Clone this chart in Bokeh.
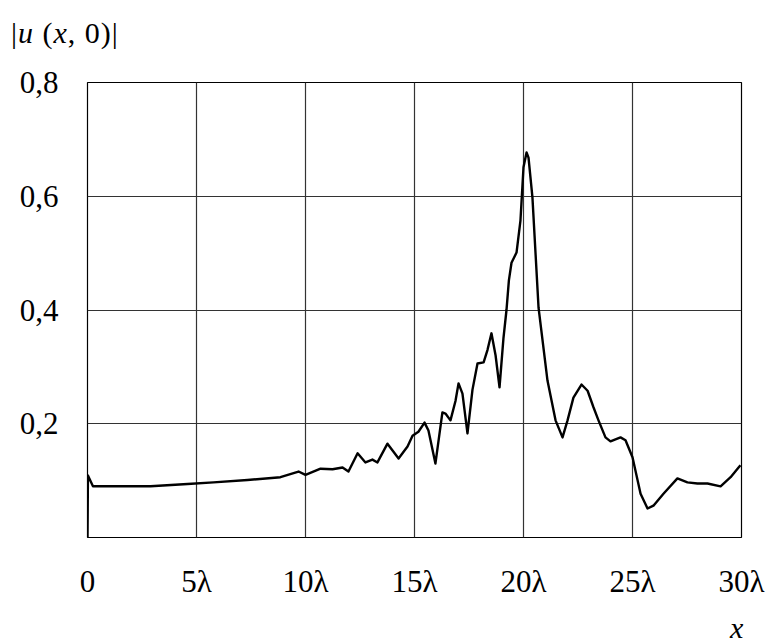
from bokeh.plotting import figure
from bokeh.layouts import column
from bokeh.models import FixedTicker, Range1d, Div
from bokeh.embed import file_html
from bokeh.resources import INLINE

# Position along the surface, in wavelengths
x_lambda = [0.0, 0.02, 0.25, 2.89, 4.59, 5.78, 7.34, 8.85, 9.68, 10.0,
            10.69, 11.24, 11.70, 11.97, 12.39, 12.75, 13.07, 13.30, 13.76, 14.27,
            14.68, 14.91, 15.18, 15.46, 15.64, 15.96, 16.28, 16.42, 16.65, 16.88,
            17.02, 17.20, 17.43, 17.66, 17.89, 18.17, 18.35, 18.53, 18.72, 18.90,
            19.08, 19.22, 19.33, 19.45, 19.68, 19.86, 20.0, 20.14, 20.23, 20.41,
            20.69, 21.10, 21.47, 21.79, 22.02, 22.29, 22.66, 22.94, 23.21, 23.44,
            23.76, 23.99, 24.45, 24.68, 25.0, 25.37, 25.69, 25.96, 26.42, 27.06,
            27.52, 27.98, 28.44, 29.04, 29.50, 29.95]
# Field magnitude |u(x, 0)|
u_abs = [0.0, 0.109, 0.090, 0.090, 0.094, 0.097, 0.101, 0.106, 0.116, 0.110,
         0.121, 0.120, 0.123, 0.116, 0.148, 0.132, 0.137, 0.132, 0.165, 0.139,
         0.160, 0.179, 0.186, 0.202, 0.188, 0.130, 0.220, 0.218, 0.206, 0.240,
         0.271, 0.253, 0.183, 0.260, 0.306, 0.308, 0.330, 0.359, 0.320, 0.264,
         0.350, 0.400, 0.452, 0.483, 0.501, 0.557, 0.651, 0.677, 0.668, 0.598,
         0.404, 0.276, 0.206, 0.176, 0.206, 0.246, 0.269, 0.258, 0.229, 0.206,
         0.176, 0.169, 0.176, 0.171, 0.141, 0.077, 0.051, 0.056, 0.077, 0.104,
         0.097, 0.095, 0.095, 0.090, 0.106, 0.127]

x_ticks = [0, 5, 10, 15, 20, 25, 30]
x_tick_labels = ["0", "5λ", "10λ", "15λ", "20λ", "25λ", "30λ"]
y_ticks = [0.2, 0.4, 0.6, 0.8]
y_tick_labels = ["0,2", "0,4", "0,6", "0,8"]

FONT = "Liberation Serif"
TEXT_CSS = ("font-family:'Liberation Serif',serif;font-size:30px;"
            "color:black;white-space:nowrap;")

# Quantity on the vertical axis, written above the plot
y_caption = Div(text=f'<div style="{TEXT_CSS}line-height:30px;letter-spacing:1px;'
                     'padding:18px 0 0 11px;">|<i>u</i> (<i>x</i>, 0)|</div>',
                width=781, height=50, margin=0)

p = figure(width=781, height=554, output_backend="svg", toolbar_location=None,
           x_range=Range1d(0, 30), y_range=Range1d(0, 0.8),
           min_border_left=87, min_border_right=40,
           min_border_top=32, min_border_bottom=67, margin=0)
p.background_fill_color = "white"
p.border_fill_color = "white"
p.outline_line_color = "black"
p.outline_line_width = 1.2

p.line(x_lambda, u_abs, line_color="black", line_width=2.4, line_join="round")

for ax in (p.xaxis[0], p.yaxis[0]):
    ax.axis_line_color = None
    ax.major_tick_line_color = None
    ax.minor_tick_line_color = None
    ax.major_label_text_font = FONT
    ax.major_label_text_font_size = "31px"
    ax.major_label_text_color = "black"

p.xaxis.ticker = FixedTicker(ticks=x_ticks)
p.xaxis.major_label_overrides = dict(zip(x_ticks, x_tick_labels))
p.xaxis.major_label_standoff = 20
p.yaxis.ticker = FixedTicker(ticks=y_ticks)
p.yaxis.major_label_overrides = dict(zip(y_ticks, y_tick_labels))
p.yaxis.major_label_standoff = 23

p.xgrid.ticker = FixedTicker(ticks=x_ticks)
p.ygrid.ticker = FixedTicker(ticks=y_ticks)
for g in (p.xgrid[0], p.ygrid[0]):
    g.grid_line_color = "#333333"
    g.grid_line_width = 1.2

# Name of the horizontal coordinate, under the right end of the axis
x_caption = Div(text=f'<div style="{TEXT_CSS}line-height:24px;'
                     'padding:12px 0 0 730px;"><i>x</i></div>',
                width=781, height=40, margin=0)

layout = column(y_caption, p, x_caption, spacing=0, margin=0)

open("out.html", "w").write(file_html(layout, INLINE))
